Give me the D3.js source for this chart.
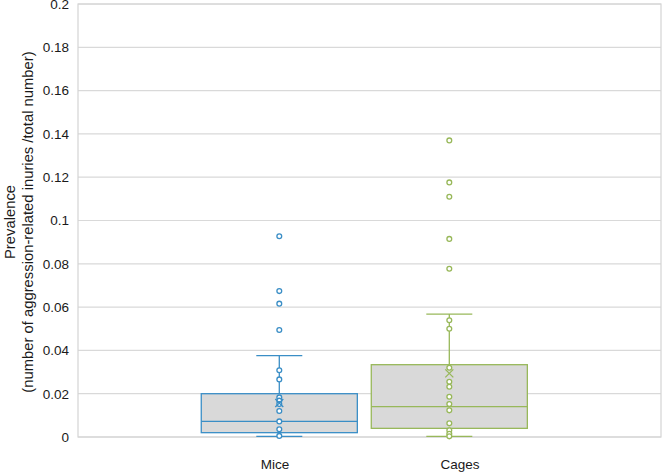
<!DOCTYPE html>
<meta charset="utf-8">
<script src="https://d3js.org/d3.v7.min.js"></script>
<style>
  body { margin: 0; background: #fff; }
  text { font-family: "Liberation Sans", Arial, sans-serif; fill: #1a1a1a; }
</style>
<body>
<script>

// data
var categories = ["Mice", "Cages"]
var colors = ["#3a8ec6", "#98b85a"]
var yTicks = [0, 0.02, 0.04, 0.06, 0.08, 0.1, 0.12, 0.14, 0.16, 0.18, 0.2]

var micePoints = [0.0927, 0.0674, 0.0616, 0.0494, 0.0308, 0.0266, 0.0183, 0.0168, 0.0152, 0.0120, 0.0072, 0.0036, 0.0005]
var cagesPoints = [0.137, 0.1176, 0.111, 0.0915, 0.0777, 0.0539, 0.050, 0.032, 0.0255, 0.0232, 0.0186, 0.0152, 0.0123, 0.0063, 0.0031, 0.0015, 0.0003]

// box stats: [whisker low, q1, median, q3, whisker high, mean]
var miceStats = [0.0003, 0.002, 0.0072, 0.020, 0.0376, 0.0157]
var cagesStats = [0.0003, 0.004, 0.014, 0.0334, 0.0568, 0.0294]

var width = 663
var height = 473
var margin = {left: 78, right: 2, top: 4, bottom: 36}

var svg = d3.select("body").append("svg")
            .attr("width", width)
            .attr("height", height)

// boxes sit a little left of the category labels, as in the source chart
var x = d3.scaleBand().domain(categories)
          .range([74.6, 654])
          .paddingInner(0.082).paddingOuter(0.745)
var xLabel = d3.scalePoint().domain(categories).range([275, 460])
var y = d3.scaleLinear().domain([0, 0.2]).range([height - margin.bottom, margin.top])

// gridlines
svg.append("g")
   .selectAll("line").data(yTicks).join("line")
   .attr("x1", margin.left).attr("x2", width - margin.right)
   .attr("y1", d => y(d)).attr("y2", d => y(d))
   .attr("stroke", "#d9d9d9").attr("stroke-width", 1.2)

// plot border
svg.append("rect")
   .attr("x", margin.left).attr("y", margin.top)
   .attr("width", width - margin.right - margin.left)
   .attr("height", y(0) - margin.top)
   .attr("fill", "none").attr("stroke", "#d4d4d4").attr("stroke-width", 1.2)

// y axis labels
var yAxis = svg.append("g")
   .attr("transform", "translate(" + (margin.left - 9) + ",0)")
   .call(d3.axisLeft(y).tickValues(yTicks).tickSize(0).tickPadding(0).tickFormat(d3.format("")))
yAxis.select(".domain").remove()
yAxis.selectAll("text").style("font-size", "13.5px").attr("fill", "#1a1a1a")
     .style("font-family", "'Liberation Sans', Arial, sans-serif")

// y axis title
var title = svg.append("text")
   .attr("transform", "translate(15,222) rotate(-90)")
   .style("text-anchor", "middle")
   .style("font-size", "14.8px")
title.append("tspan").attr("x", 0).attr("dy", 0).text("Prevalence")
title.append("tspan").attr("x", 0).attr("dy", 17.5).text("(number of aggression-related inuries /total number)")

// x labels
svg.append("g").selectAll("text").data(categories).join("text")
   .attr("x", d => xLabel(d))
   .attr("y", 469)
   .style("text-anchor", "middle")
   .style("font-size", "13.5px")
   .text(d => d)

var series = [
  {name: "Mice", stats: miceStats, points: micePoints, color: colors[0]},
  {name: "Cages", stats: cagesStats, points: cagesPoints, color: colors[1]}
]

series.forEach(function(s) {
  var g = svg.append("g")
  var cx = x(s.name) + x.bandwidth() / 2
  var st = s.stats
  var cap = 23
  // whiskers
  g.append("line").attr("x1", cx).attr("x2", cx).attr("y1", y(st[3])).attr("y2", y(st[4]))
   .attr("stroke", s.color).attr("stroke-width", 1.3)
  g.append("line").attr("x1", cx).attr("x2", cx).attr("y1", y(st[0])).attr("y2", y(st[1]))
   .attr("stroke", s.color).attr("stroke-width", 1.3)
  g.append("line").attr("x1", cx - cap).attr("x2", cx + cap).attr("y1", y(st[4])).attr("y2", y(st[4]))
   .attr("stroke", s.color).attr("stroke-width", 1.3)
  g.append("line").attr("x1", cx - cap).attr("x2", cx + cap).attr("y1", y(st[0])).attr("y2", y(st[0]))
   .attr("stroke", s.color).attr("stroke-width", 1.3)
  // box
  g.append("rect")
   .attr("x", x(s.name)).attr("width", x.bandwidth())
   .attr("y", y(st[3])).attr("height", y(st[1]) - y(st[3]))
   .attr("fill", "#d9d9d9").attr("stroke", s.color).attr("stroke-width", 1.3)
  // median
  g.append("line").attr("x1", x(s.name)).attr("x2", x(s.name) + x.bandwidth())
   .attr("y1", y(st[2])).attr("y2", y(st[2]))
   .attr("stroke", s.color).attr("stroke-width", 1.3)
  // points
  g.selectAll("circle").data(s.points).join("circle")
   .attr("cx", cx).attr("cy", d => y(d)).attr("r", 2.4)
   .attr("fill", "#fff").attr("stroke", s.color).attr("stroke-width", 1.3)
  // mean marker
  var m = y(st[5]), k = 4
  g.append("path")
   .attr("d", "M" + (cx - k) + "," + (m - k) + "L" + (cx + k) + "," + (m + k) +
              "M" + (cx - k) + "," + (m + k) + "L" + (cx + k) + "," + (m - k))
   .attr("stroke", s.color).attr("stroke-width", 1.3).attr("fill", "none")
})

</script>
</body>
